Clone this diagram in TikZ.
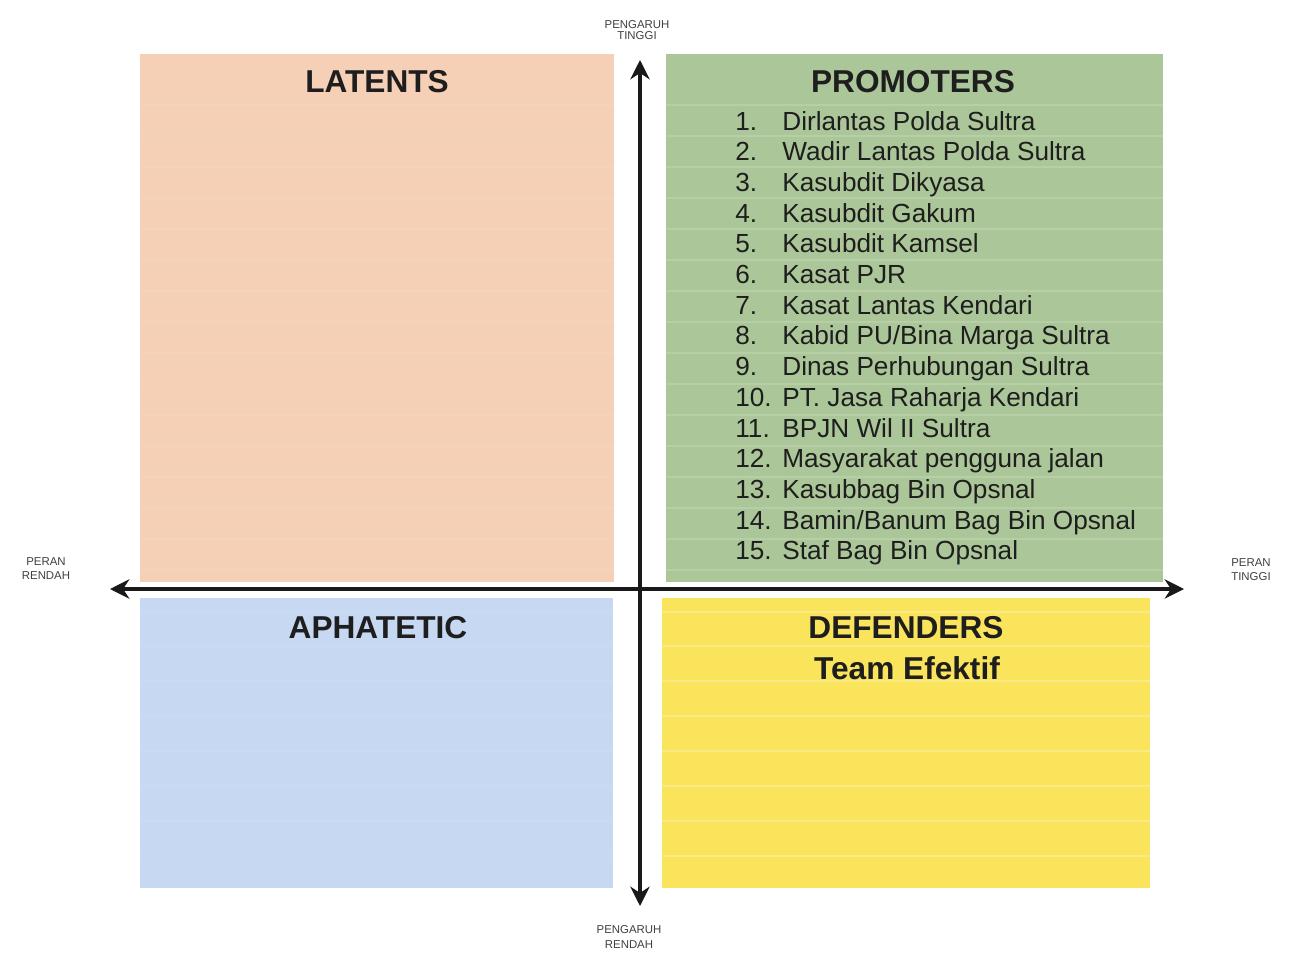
\documentclass[tikz,border=0pt]{standalone}
\usepackage{fontspec}
\setmainfont{Liberation Sans}
\usetikzlibrary{arrows.meta}
\definecolor{cLat}{HTML}{F5CFB6}
\definecolor{cPro}{HTML}{ABC698}
\definecolor{cAph}{HTML}{C7D8F2}
\definecolor{cDef}{HTML}{F9E45C}
\definecolor{cTxt}{HTML}{1E1E1E}
\tikzset{
  quad/.style={draw=none},
  qtitle/.style={font=\fontsize{18}{20}\selectfont\bfseries, text=cTxt, inner sep=0pt},
  axislabel/.style={font=\fontsize{6.5}{7}\selectfont, text=cTxt!85, inner sep=0pt},
  listnum/.style={font=\fontsize{14.9}{16}\selectfont, text=cTxt, anchor=base west, inner sep=0pt},
  listtxt/.style={font=\fontsize{14.9}{16}\selectfont, text=cTxt, anchor=base west, inner sep=0pt},
  axisline/.style={line width=2.8pt, black!90, -{Stealth[length=11pt,width=11pt]}},
  stripe/.style={white, opacity=0.15, line width=0.8pt}
}
\begin{document}
\begin{tikzpicture}[x={(0.02cm,0)}, y={(0,-0.02cm)}]
\useasboundingbox (0,0) rectangle (1295,957);
\fill[white] (0,0) rectangle (1295,957);
% quadrants
\fill[cLat] (140,54) rectangle (614,582);
\fill[cPro] (666,54) rectangle (1163,582);
\fill[cAph] (140,598) rectangle (613,888);
\fill[cDef] (662,598) rectangle (1150,888);
% faint stripes
\foreach \yy in {105,136,167,198,229,260,291,322,353,384,415,446,477,508,539,570}{
  \draw[stripe] (666,\yy) -- (1163,\yy);
  \draw[stripe, opacity=0.07] (140,\yy) -- (614,\yy);
}
\foreach \yy in {612,646,681,716,751,786,821,856}{
  \draw[stripe, opacity=0.25] (662,\yy) -- (1150,\yy);
  \draw[stripe, opacity=0.07] (140,\yy) -- (613,\yy);
}
% titles
\node[qtitle] (lat) at (377,82) {LATENTS};
\node[qtitle] (pro) at (913,82) {PROMOTERS};
\node[qtitle] (aph) at (378,628) {APHATETIC};
\node[qtitle] (def) at (906,628) {DEFENDERS};
\node[qtitle] (team) at (907,668) {Team Efektif};
% list
\foreach \n/\t [count=\i from 0] in {
 1./{Dirlantas Polda Sultra},
 2./{Wadir Lantas Polda Sultra},
 3./{Kasubdit Dikyasa},
 4./{Kasubdit Gakum},
 5./{Kasubdit Kamsel},
 6./{Kasat PJR},
 7./{Kasat Lantas Kendari},
 8./{Kabid PU/Bina Marga Sultra},
 9./{Dinas Perhubungan Sultra},
 10./{PT. Jasa Raharja Kendari},
 11./{BPJN Wil II Sultra},
 12./{Masyarakat pengguna jalan},
 13./{Kasubbag Bin Opsnal},
 14./{Bamin/Banum Bag Bin Opsnal},
 15./{Staf Bag Bin Opsnal}}{
  \node[listnum] (num\i) at (735,{130+30.7*\i}) {\n};
  \node[listtxt] (item\i) at (782,{130+30.7*\i}) {\t};
}
% axes
\coordinate (vtop) at (640,60);
\coordinate (vbot) at (640,906);
\coordinate (hl) at (110,589);
\coordinate (hr) at (1184,589);
\coordinate (vc) at (640,589);
\draw[axisline] (vc) -- (vtop);
\draw[axisline] (vc) -- (vbot);
\draw[axisline] (vc) -- (hl);
\draw[axisline] (vc) -- (hr);
% axis labels
\node[axislabel, align=center] (pt) at (637,30) {PENGARUH\\[-1pt]TINGGI};
\node[axislabel, align=center] (pr) at (629,937) {PENGARUH\\[1pt]RENDAH};
\node[axislabel, align=center] (rr) at (46,569) {PERAN\\[1pt]RENDAH};
\node[axislabel, align=center] (rt) at (1251,570) {PERAN\\[1pt]TINGGI};
\end{tikzpicture}
\end{document}
